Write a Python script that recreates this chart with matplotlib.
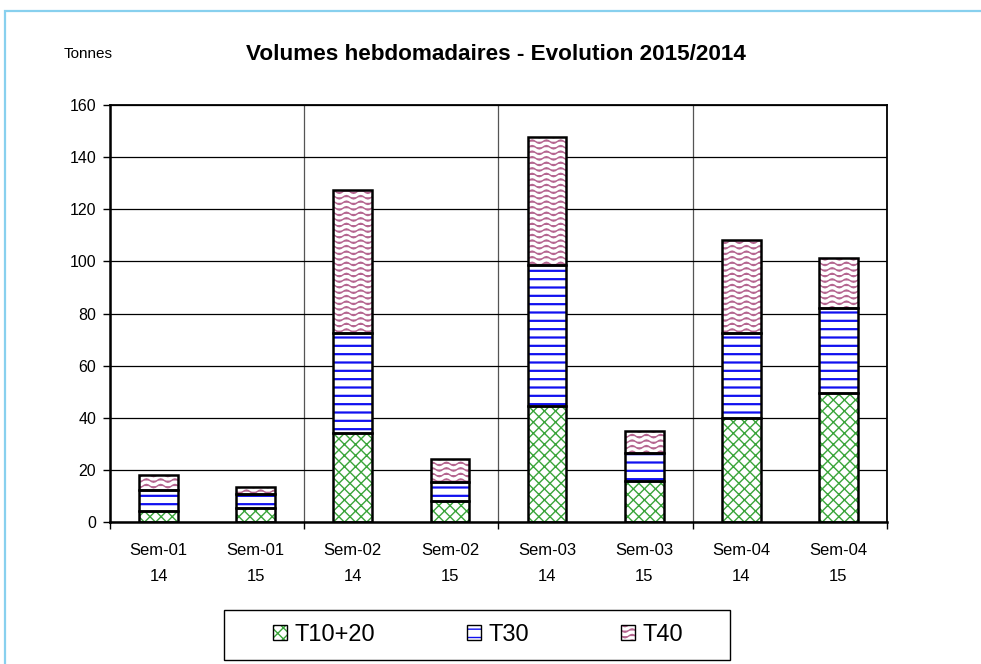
import warnings
import numpy as np
import matplotlib
matplotlib.use("Agg")
import matplotlib.pyplot as plt
import matplotlib.hatch as mhatch
from matplotlib.path import Path
from matplotlib.patches import Rectangle, Patch
from matplotlib.legend_handler import HandlerTuple

warnings.filterwarnings("ignore")

plt.rcParams['font.family'] = ['Liberation Sans', 'DejaVu Sans']

# data (tonnes)
weeks = ["Sem-01", "Sem-01", "Sem-02", "Sem-02", "Sem-03", "Sem-03", "Sem-04", "Sem-04"]
years = ["14", "15", "14", "15", "14", "15", "14", "15"]
t10_20 = [4.2, 5.3, 34.2, 8.0, 44.4, 15.7, 39.9, 49.5]
t30 = [8.0, 5.4, 38.3, 7.3, 54.4, 10.7, 32.6, 32.6]
t40 = [5.8, 2.8, 54.9, 8.7, 49.0, 8.6, 35.7, 19.2]
series = ["T10+20", "T30", "T40"]


class WaveHatch(mhatch.HatchPatternBase):
    # wavy lines, like the excel "wave" fill
    def __init__(self, hatch, density):
        self.num_rows = int(hatch.count('w') * density)
        self.pts = 57
        self.num_vertices = self.num_rows * self.pts

    def set_vertices_and_codes(self, vertices, codes):
        if self.num_rows == 0:
            return
        step = 1.0 / self.num_rows
        xs = np.linspace(0, 1, self.pts)
        for i in range(self.num_rows):
            y0 = step * (i + 0.5)
            seg = slice(i * self.pts, (i + 1) * self.pts)
            vertices[seg, 0] = xs
            vertices[seg, 1] = y0 + 0.3 * step * np.sin(2 * np.pi * 7 * xs)
            codes[seg] = Path.LINETO
            codes[i * self.pts] = Path.MOVETO


mhatch._hatch_types.append(WaveHatch)

fig = plt.figure(figsize=(9.81, 6.64), dpi=100)
ax = fig.add_axes([110 / 981, 1 - 522 / 664, 777 / 981, 417 / 664])

x = np.arange(len(weeks))
w = 0.4
b2 = np.array(t10_20)
b3 = b2 + np.array(t30)

green = '#3aa53a'
blue = '#1010f0'
pink = '#b56690'
styles = [(green, 'xxx', 1.0), (blue, '--', 1.6), (pink, 'www', 1.0)]

handles = []
for vals, bot, (col, hat, hlw), name in zip([t10_20, t30, t40], [None, b2, b3], styles, series):
    with plt.rc_context({'hatch.linewidth': hlw}):
        ax.bar(x, vals, w, bottom=bot, color='white', edgecolor=col, hatch=hat,
               linewidth=0, zorder=2)
        h_fill = Patch(facecolor='white', edgecolor=col, hatch=hat, linewidth=0)
    # black outline on top
    ax.bar(x, vals, w, bottom=bot, fill=False, edgecolor='black', linewidth=1.8, zorder=3)
    h_edge = Patch(fill=False, edgecolor='black', linewidth=1.0)
    handles.append((h_fill, h_edge))

ax.set_ylim(0, 160)
ax.set_xlim(-0.5, len(weeks) - 0.5)
ax.set_yticks(np.arange(0, 161, 20))
ax.yaxis.grid(True, color='black', linewidth=0.9, zorder=0)

ax.set_xticks(np.arange(-0.5, len(weeks), 2))
ax.set_xticklabels([])
ax.set_xticks(x, minor=True)
ax.set_xticklabels([f"{a}\n{b}" for a, b in zip(weeks, years)], minor=True,
                   linespacing=1.95)
ax.xaxis.grid(True, which='major', color='#555555', linewidth=0.9, zorder=0)
ax.tick_params(axis='x', which='minor', length=0, pad=15, labelsize=12)
ax.tick_params(axis='x', which='major', length=5, width=1)
ax.tick_params(axis='y', length=5, width=1, labelsize=11.5, pad=5)
ax.set_axisbelow(True)

for s in ['left', 'bottom']:
    ax.spines[s].set_linewidth(1.8)
for s in ['top', 'right']:
    ax.spines[s].set_linewidth(1.3)

fig.text(88 / 981, 1 - 58 / 664, "Tonnes", ha='center', va='baseline', fontsize=11)
fig.text(496 / 981, 1 - 60 / 664, "Volumes hebdomadaires - Evolution 2015/2014",
         ha='center', va='baseline', fontsize=16.2, fontweight='bold')

leg = fig.legend(handles=handles, labels=series, loc='center',
                 bbox_to_anchor=(478 / 981, 1 - 635 / 664),
                 handler_map={tuple: HandlerTuple(ndivide=1, pad=0)},
                 ncol=3, fontsize=17, frameon=False,
                 handlelength=0.6, handleheight=0.6, handletextpad=0.3,
                 columnspacing=3.9, borderpad=0, borderaxespad=0)

# legend box
fig.patches.append(Rectangle((224 / 981, 1 - 660 / 664), 506 / 981, 50 / 664,
                             transform=fig.transFigure, fill=False,
                             edgecolor='black', linewidth=1.0))

# light blue outer frame
fig.patches.append(Rectangle((5 / 981, -0.05), 1.2, 1 - 11 / 664 + 0.05,
                             transform=fig.transFigure, fill=False,
                             edgecolor='#88d0ee', linewidth=1.6, zorder=10))

fig.savefig("out.png", dpi=100)
